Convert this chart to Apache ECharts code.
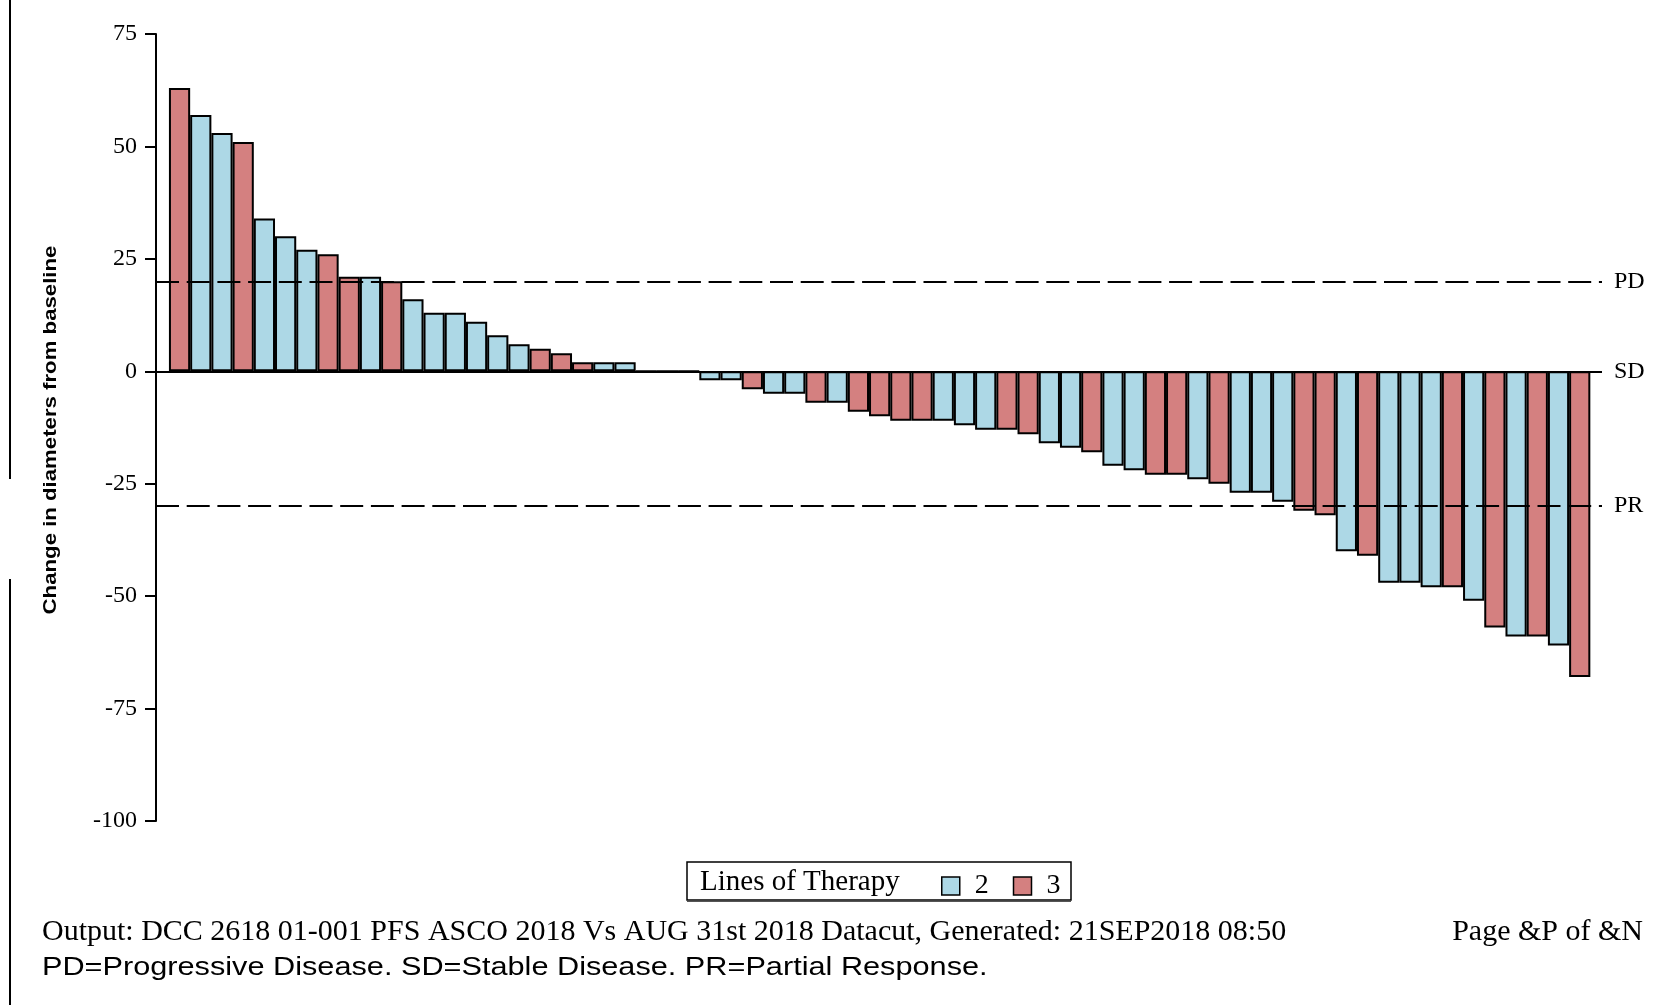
<!DOCTYPE html>
<html>
<head>
<meta charset="utf-8">
<script src="https://cdn.jsdelivr.net/npm/echarts@6/dist/echarts.min.js"></script>
<style>
  html, body { margin: 0; padding: 0; background: #fff; }
  #chart { width: 1663px; height: 1005px; }
</style>
</head>
<body>
<div id="chart"></div>
<script>
// Best change in sum of target-lesion diameters (%), one bar per patient, sorted high to low
const change = [
  63, 57, 53, 51, 34, 30, 27, 26, 21, 21, 20, 16, 13, 13, 11, 8, 6, 5, 4, 2, 2, 2,
  0, 0, 0,
  -2, -2, -4, -5, -5, -7, -7, -9, -10, -11, -11, -11, -12, -13, -13, -14, -16, -17, -18,
  -21, -22, -23, -23, -24, -25, -27, -27, -29, -31, -32, -40, -41, -47, -47, -48, -48,
  -51, -57, -59, -59, -61, -68
];
// Prior lines of therapy for each patient, same order as `change`
const lines = [
  3, 2, 2, 3, 2, 2, 2, 3, 3, 2, 3, 2, 2, 2, 2, 2, 2, 3, 3, 3, 2, 2,
  2, 2, 2,
  2, 2, 3, 2, 2, 3, 2, 3, 3, 3, 3, 2, 2, 2, 3, 3, 2, 2, 3,
  2, 2, 3, 3, 2, 3, 2, 2, 2, 3, 3, 2, 3, 2, 2, 2, 3,
  2, 3, 2, 3, 2, 3
];
const therapyGroups = ['2', '3'];
const groupColors = { '2': '#ADD8E6', '3': '#D48080' };
// Response thresholds
const thresholds = [
  { name: 'PD', value: 20, dashed: true },
  { name: 'SD', value: 0, dashed: false },
  { name: 'PR', value: -30, dashed: true }
];
const yTicks = { min: -100, max: 75, step: 25 };

const SERIF = 'Liberation Serif, Times New Roman, serif';
const SANS = 'Liberation Sans, Arial, sans-serif';

const seriesData = { '2': [], '3': [] };
change.forEach(function (v, i) {
  seriesData[String(lines[i])].push([i + 1, v]);
});

const markLineData = thresholds.map(function (t) {
  return {
    yAxis: t.value,
    name: t.name,
    lineStyle: { color: '#000', width: 2, type: t.dashed ? [23, 7.7] : 'solid' }
  };
});

const series = therapyGroups.map(function (g, idx) {
  const s = {
    name: g,
    type: 'bar',
    data: seriesData[g],
    barWidth: '100%',
    barGap: '-100%',
    itemStyle: { color: groupColors[g], borderColor: '#000', borderWidth: 2 },
    emphasis: { disabled: true },
    animation: false
  };
  if (idx === 0) {
    s.markLine = {
      silent: true,
      symbol: 'none',
      z: 5,
      animation: false,
      label: {
        show: true, position: 'end', distance: 12, formatter: '{b}',
        fontFamily: SERIF, fontSize: 24, color: '#000'
      },
      data: markLineData
    };
  }
  return s;
});

const chart = echarts.init(document.getElementById('chart'));
chart.setOption({
  backgroundColor: '#fff',
  animation: false,
  grid: { left: 156, right: 61, top: 34, bottom: 184 },
  xAxis: { type: 'value', min: -0.11, max: 68.05, show: false },
  yAxis: {
    type: 'value',
    min: yTicks.min, max: yTicks.max, interval: yTicks.step,
    axisLine: { show: true, onZero: false, lineStyle: { color: '#000', width: 2 } },
    axisTick: { show: true, length: 11, lineStyle: { color: '#000', width: 2 } },
    axisLabel: { fontFamily: SERIF, fontSize: 24, color: '#000', margin: 19 },
    splitLine: { show: false }
  },
  legend: {
    data: therapyGroups,
    left: 941, top: 872,
    icon: 'rect',
    itemWidth: 18, itemHeight: 18, itemGap: 24,
    padding: 0,
    itemStyle: { borderColor: '#000', borderWidth: 1.5 },
    textStyle: { fontFamily: SERIF, fontSize: 28, color: '#000', padding: [0, 0, 0, 10] },
    selectedMode: false
  },
  graphic: [
    { type: 'line', shape: { x1: 10, y1: 0, x2: 10, y2: 479 }, style: { stroke: '#000', lineWidth: 2 } },
    { type: 'line', shape: { x1: 10, y1: 579, x2: 10, y2: 1005 }, style: { stroke: '#000', lineWidth: 2 } },
    // axis title, widened to the document's stretched sans face
    { type: 'text', x: 51, y: 430, rotation: Math.PI / 2, scaleX: 1.2,
      style: { text: 'Change in diameters from baseline', font: 'bold 18.5px ' + SANS, fill: '#000',
               textAlign: 'center', textVerticalAlign: 'middle' } },
    { type: 'rect', shape: { x: 687, y: 862, width: 384, height: 38 },
      style: { fill: 'none', stroke: '#000', lineWidth: 1.5 } },
    { type: 'line', shape: { x1: 687, y1: 901.5, x2: 1071, y2: 901.5 }, style: { stroke: '#555', lineWidth: 1 } },
    { type: 'text', x: 700, y: 882,
      style: { text: 'Lines of Therapy', font: '29px ' + SERIF, fill: '#000', textVerticalAlign: 'middle' } },
    { type: 'text', x: 42, y: 932,
      style: { text: 'Output: DCC 2618 01-001 PFS ASCO 2018 Vs AUG 31st 2018 Datacut, Generated: 21SEP2018 08:50',
               font: '30px ' + SERIF, fill: '#000', textVerticalAlign: 'middle' } },
    { type: 'text', x: 1643, y: 932,
      style: { text: 'Page &P of &N', font: '30px ' + SERIF, fill: '#000',
               textAlign: 'right', textVerticalAlign: 'middle' } },
    { type: 'text', x: 42, y: 968, scaleX: 1.18,
      style: { text: 'PD=Progressive Disease. SD=Stable Disease. PR=Partial Response.',
               font: '26px ' + SANS, fill: '#000', textVerticalAlign: 'middle' } }
  ],
  series: series
});
</script>
</body>
</html>
